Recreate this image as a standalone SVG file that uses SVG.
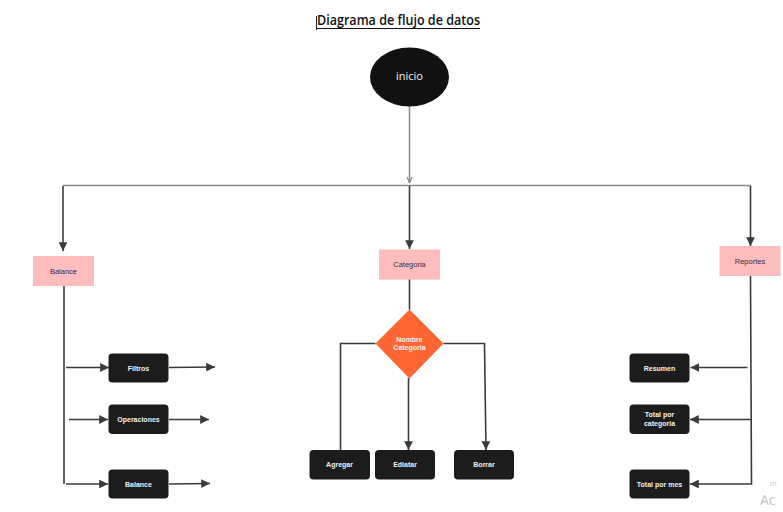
<svg xmlns="http://www.w3.org/2000/svg" width="783" height="512" viewBox="0 0 783 512">
<defs>
<style>
.title{font-family:"Open Sans","Liberation Sans",sans-serif;font-size:14px;font-weight:600;fill:#111}
.pink{fill:#ffbcbc}
.ptxt{font-family:"Liberation Sans",Arial,sans-serif;font-size:7.5px;fill:#3a2a4a;text-anchor:middle}
.dark{fill:#1c1c1c}
.dtxt{font-family:"Liberation Sans",Arial,sans-serif;font-size:7px;font-weight:bold;fill:#f2f2f2;text-anchor:middle}
.gray{stroke:#8a8a8a;stroke-width:1.5;fill:none}
.ln{stroke:#3a3a3a;stroke-width:1.6;fill:none}
.wm{font-family:"Open Sans","Liberation Sans",sans-serif;fill:#c4c4c4}
</style>
<marker id="ah" viewBox="0 0 10 10" refX="10" refY="5" markerWidth="5.5" markerHeight="5.5" orient="auto" markerUnits="strokeWidth">
<path d="M0,0 L10,5 L0,10 z" fill="#3a3a3a"/>
</marker>
<marker id="ahg" viewBox="0 0 10 10" refX="10" refY="5" markerWidth="4" markerHeight="4" orient="auto" markerUnits="strokeWidth">
<path d="M0,1 L10,5 L0,9" fill="none" stroke="#8a8a8a" stroke-width="2"/>
</marker>
</defs>
<rect width="783" height="512" fill="#ffffff"/>

<g id="title">
<line x1="316.5" y1="16" x2="316.5" y2="30" stroke="#222" stroke-width="1"/>
<text class="title" x="317" y="25" textLength="163" lengthAdjust="spacingAndGlyphs">Diagrama de flujo de datos</text>
<line x1="317" y1="28.5" x2="480" y2="28.5" stroke="#111" stroke-width="1"/>
</g>

<g id="connectors">
<line class="gray" x1="409.5" y1="106" x2="409.5" y2="183" marker-end="url(#ahg)"/>
<line class="gray" x1="63" y1="185.5" x2="751" y2="185.5"/>
<line class="ln" x1="63" y1="186" x2="63" y2="251" marker-end="url(#ah)"/>
<line class="ln" x1="409.5" y1="186" x2="409.5" y2="249" marker-end="url(#ah)"/>
<line class="ln" x1="750.5" y1="186" x2="750.5" y2="246" marker-end="url(#ah)"/>

<line class="ln" x1="64" y1="286" x2="64" y2="484"/>
<line class="ln" x1="66" y1="367.5" x2="109" y2="367.5" marker-end="url(#ah)"/>
<line class="ln" x1="69" y1="419.5" x2="108" y2="419.5" marker-end="url(#ah)"/>
<line class="ln" x1="66" y1="484" x2="108" y2="484" marker-end="url(#ah)"/>
<line class="ln" x1="169" y1="367.5" x2="215" y2="367" marker-end="url(#ah)"/>
<line class="ln" x1="169" y1="419.5" x2="209" y2="419.5" marker-end="url(#ah)"/>
<line class="ln" x1="169" y1="484" x2="210" y2="483.5" marker-end="url(#ah)"/>

<line class="ln" x1="409.5" y1="279" x2="409.5" y2="309.5"/>
<polyline class="ln" points="375.5,343.5 340.5,343.5 340.5,450"/>
<line class="ln" x1="408.5" y1="378" x2="408.5" y2="450" marker-end="url(#ah)"/>
<polyline class="ln" points="443.5,343.5 484.5,343.5 486,450" marker-end="url(#ah)"/>

<polyline class="ln" points="750.5,276 751.5,484 690,484" marker-end="url(#ah)"/>
<line class="ln" x1="747.5" y1="367.5" x2="690.5" y2="367.5" marker-end="url(#ah)"/>
<line class="ln" x1="751" y1="419.5" x2="690" y2="419.5" marker-end="url(#ah)"/>
</g>

<g id="inicio">
<ellipse cx="409.5" cy="77" rx="39.5" ry="29.5" fill="#111"/>
<text x="409.5" y="80" font-family="Open Sans, Liberation Sans, sans-serif" font-size="11" fill="#f2f2f2" text-anchor="middle">inicio</text>
</g>

<g id="balance-head">
<rect class="pink" x="33" y="256" width="61" height="30"/>
<text class="ptxt" x="63.5" y="273.5">Balance</text>
</g>
<g id="categoria">
<rect class="pink" x="379" y="249.5" width="61" height="30"/>
<text class="ptxt" x="409.5" y="267">Categoria</text>
</g>
<g id="reportes">
<rect class="pink" x="719.5" y="246" width="61" height="30"/>
<text class="ptxt" x="750" y="263.5">Reportes</text>
</g>

<g id="filtros">
<rect class="dark" x="108.5" y="353.5" width="60" height="29" rx="4"/>
<text class="dtxt" x="138.5" y="370.5">Filtros</text>
</g>
<g id="operaciones">
<rect class="dark" x="108.5" y="404.5" width="60" height="29.5" rx="4"/>
<text class="dtxt" x="138.5" y="421.5">Operaciones</text>
</g>
<g id="balance">
<rect class="dark" x="108.5" y="469.5" width="60" height="29" rx="4"/>
<text class="dtxt" x="138.5" y="486.5">Balance</text>
</g>

<g id="nombre-categoria">
<polygon points="409.5,309.5 443.5,343.5 409.5,378.5 375.5,343.5" fill="#ff6633"/>
<text class="dtxt" x="409.5" y="341.5">Nombre</text>
<text class="dtxt" x="409.5" y="350">Categoria</text>
</g>

<g id="agregar">
<rect class="dark" x="309.5" y="450" width="60.5" height="29.5" rx="4"/>
<text class="dtxt" x="339.5" y="467">Agregar</text>
</g>
<g id="ediatar">
<rect class="dark" x="375" y="450" width="60" height="29.5" rx="4"/>
<text class="dtxt" x="405" y="467">Ediatar</text>
</g>
<g id="borrar">
<rect class="dark" x="454" y="450" width="60" height="29.5" rx="4"/>
<text class="dtxt" x="484" y="467">Borrar</text>
</g>

<g id="resumen">
<rect class="dark" x="629.5" y="353.5" width="60" height="29" rx="4"/>
<text class="dtxt" x="659.5" y="370.5">Resumen</text>
</g>
<g id="total-categoria">
<rect class="dark" x="629.5" y="404.5" width="60" height="29.5" rx="4"/>
<text class="dtxt" x="659.5" y="417">Total por</text>
<text class="dtxt" x="659.5" y="425.5">categoria</text>
</g>
<g id="total-mes">
<rect class="dark" x="629.5" y="469.5" width="60" height="29" rx="4"/>
<text class="dtxt" x="659.5" y="486.5">Total por mes</text>
</g>

<g id="watermark">
<text class="wm" x="770" y="486" font-size="7">m</text>
<text class="wm" x="760" y="505" font-size="14">Ac</text>
</g>
</svg>
